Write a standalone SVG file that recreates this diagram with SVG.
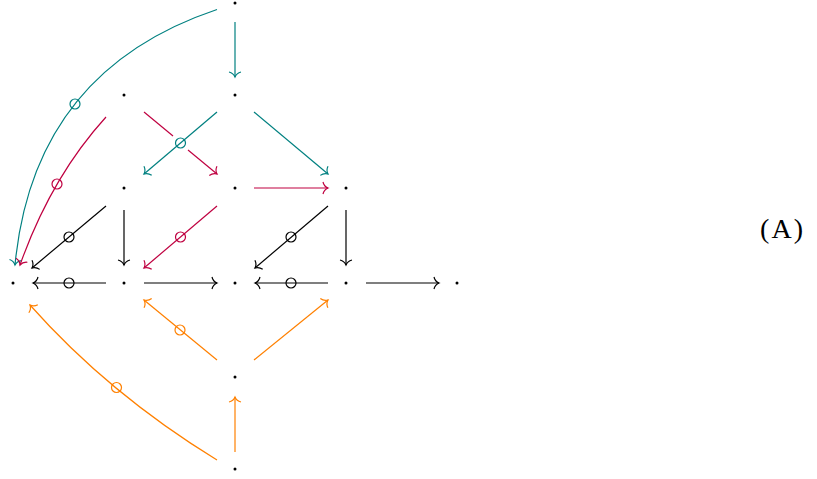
<svg xmlns="http://www.w3.org/2000/svg" width="817" height="479" viewBox="0 0 817 479">
<style>
  .e { fill: none; stroke-width: 1.2; }
  .k { stroke: #000; }
  .t { stroke: #008080; }
  .p { stroke: #BF0040; }
  .o { stroke: #FF8000; }
  .c { fill: none; stroke-width: 1.2; }
  .dot { fill: #000; }
  .lbl { font-family: "Liberation Serif", serif; font-size: 28px; font-weight: normal; fill: #000; }
</style>
<defs>
  <marker id="ak" viewBox="-8 -8 10 16" markerWidth="10" markerHeight="16" refX="0" refY="0" orient="auto" markerUnits="userSpaceOnUse"><path d="M-5,-6 C-4.2,-2.6 -2,-0.8 0,0 C-2,0.8 -4.2,2.6 -5,6" fill="none" stroke="#000" stroke-width="1.2"/></marker>
  <marker id="at" viewBox="-8 -8 10 16" markerWidth="10" markerHeight="16" refX="0" refY="0" orient="auto" markerUnits="userSpaceOnUse"><path d="M-5,-6 C-4.2,-2.6 -2,-0.8 0,0 C-2,0.8 -4.2,2.6 -5,6" fill="none" stroke="#008080" stroke-width="1.2"/></marker>
  <marker id="ap" viewBox="-8 -8 10 16" markerWidth="10" markerHeight="16" refX="0" refY="0" orient="auto" markerUnits="userSpaceOnUse"><path d="M-5,-6 C-4.2,-2.6 -2,-0.8 0,0 C-2,0.8 -4.2,2.6 -5,6" fill="none" stroke="#BF0040" stroke-width="1.2"/></marker>
  <marker id="ao" viewBox="-8 -8 10 16" markerWidth="10" markerHeight="16" refX="0" refY="0" orient="auto" markerUnits="userSpaceOnUse"><path d="M-5,-6 C-4.2,-2.6 -2,-0.8 0,0 C-2,0.8 -4.2,2.6 -5,6" fill="none" stroke="#FF8000" stroke-width="1.2"/></marker>
</defs>

<g id="nodes">
  <g id="n-top"><circle class="dot" cx="235" cy="3" r="1.5"/></g>
  <g id="n-r2a"><circle class="dot" cx="124" cy="95" r="1.5"/></g>
  <g id="n-r2b"><circle class="dot" cx="235" cy="95" r="1.5"/></g>
  <g id="n-r3a"><circle class="dot" cx="124" cy="188" r="1.5"/></g>
  <g id="n-r3b"><circle class="dot" cx="235" cy="188" r="1.5"/></g>
  <g id="n-r3c"><circle class="dot" cx="346" cy="188" r="1.5"/></g>
  <g id="n-r4a"><circle class="dot" cx="13" cy="283" r="1.5"/></g>
  <g id="n-r4b"><circle class="dot" cx="124" cy="283" r="1.5"/></g>
  <g id="n-r4c"><circle class="dot" cx="235" cy="283" r="1.5"/></g>
  <g id="n-r4d"><circle class="dot" cx="346" cy="283" r="1.5"/></g>
  <g id="n-r4e"><circle class="dot" cx="457" cy="283" r="1.5"/></g>
  <g id="n-r5"><circle class="dot" cx="235" cy="377" r="1.5"/></g>
  <g id="n-r6"><circle class="dot" cx="235" cy="469" r="1.5"/></g>
</g>

<g id="connectors">
  <!-- teal -->
  <path class="e t" d="M235,22 L235,77" marker-end="url(#at)"/>
  <path class="e t" d="M217,9.5 Q33.5,71 15,265" marker-end="url(#at)"/>
  <circle class="c t" cx="75" cy="104" r="5"/>
  <path class="e t" d="M254,112 L328,174" marker-end="url(#at)"/>
  <!-- purple -->
  <path class="e p" d="M106,117 Q51,177.5 20,265" marker-end="url(#ap)"/>
  <circle class="c p" cx="57" cy="184" r="5"/>
  <path class="e p" d="M144,112 L173,136"/>
  <path class="e p" d="M188,150 L217,174" marker-end="url(#ap)"/>
  <path class="e t" d="M217,112 L144,174" marker-end="url(#at)"/>
  <circle class="c t" cx="180.5" cy="143" r="5"/>
  <path class="e p" d="M254,188 L328,188" marker-end="url(#ap)"/>
  <path class="e p" d="M217,206 L144,268" marker-end="url(#ap)"/>
  <circle class="c p" cx="180.5" cy="237" r="5"/>
  <!-- black -->
  <path class="e k" d="M106,206 L32,268" marker-end="url(#ak)"/>
  <circle class="c k" cx="69" cy="237" r="5"/>
  <path class="e k" d="M124,210 L124,265" marker-end="url(#ak)"/>
  <path class="e k" d="M106,283 L33,283" marker-end="url(#ak)"/>
  <circle class="c k" cx="69" cy="283" r="5"/>
  <path class="e k" d="M144,283 L217,283" marker-end="url(#ak)"/>
  <path class="e k" d="M328,206 L255,268" marker-end="url(#ak)"/>
  <circle class="c k" cx="291" cy="237" r="5"/>
  <path class="e k" d="M346,210 L346,265" marker-end="url(#ak)"/>
  <path class="e k" d="M328,283 L255,283" marker-end="url(#ak)"/>
  <circle class="c k" cx="291" cy="283" r="5"/>
  <path class="e k" d="M366,283 L439,283" marker-end="url(#ak)"/>
  <!-- orange -->
  <path class="e o" d="M217,360 L144,300" marker-end="url(#ao)"/>
  <circle class="c o" cx="180" cy="330" r="5"/>
  <path class="e o" d="M254,360 L328,300" marker-end="url(#ao)"/>
  <path class="e o" d="M235,452 L235,397" marker-end="url(#ao)"/>
  <path class="e o" d="M217,460 Q108.5,393.5 30,305" marker-end="url(#ao)"/>
  <circle class="c o" cx="116.5" cy="387.5" r="5"/>
</g>

<text class="lbl" x="760" y="238" textLength="43" lengthAdjust="spacing">(A)</text>
</svg>
